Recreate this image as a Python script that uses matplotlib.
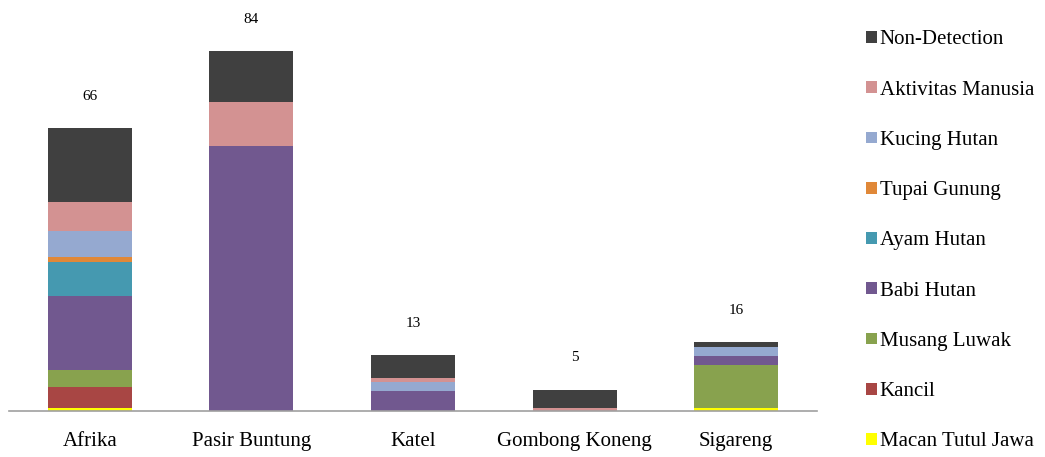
import numpy as np
import matplotlib
matplotlib.use('Agg')
from matplotlib import pyplot as plt
from matplotlib.patches import Patch

plt.rcParams['font.family'] = ['Liberation Serif', 'DejaVu Serif']

sites = ['Afrika', 'Pasir Buntung', 'Katel', 'Gombong Koneng', 'Sigareng']
totals = [66, 84, 13, 5, 16]

# stacked from the bottom up
macan_tutul_jawa = [0.6, 0, 0, 0, 0.6]
kancil = [5.0, 0, 0, 0, 0]
musang_luwak = [4.0, 0, 0, 0, 10.2]
babi_hutan = [17.2, 61.8, 4.7, 0, 2.0]
ayam_hutan = [8.1, 0, 0, 0, 0]
tupai_gunung = [1.0, 0, 0, 0, 0]
kucing_hutan = [6.1, 0, 2.0, 0, 2.2]
aktivitas_manusia = [6.8, 10.4, 1.0, 0.7, 0]
non_detection = [17.2, 11.8, 5.3, 4.3, 1.0]

series = [
    ('Macan Tutul Jawa', macan_tutul_jawa, '#ffff00'),
    ('Kancil', kancil, '#a84644'),
    ('Musang Luwak', musang_luwak, '#88a24e'),
    ('Babi Hutan', babi_hutan, '#71588f'),
    ('Ayam Hutan', ayam_hutan, '#4599b0'),
    ('Tupai Gunung', tupai_gunung, '#e08838'),
    ('Kucing Hutan', kucing_hutan, '#95a9d0'),
    ('Aktivitas Manusia', aktivitas_manusia, '#d39292'),
    ('Non-Detection', non_detection, '#404040'),
]

fig = plt.figure(figsize=(10.45, 4.57), dpi=100)
ax = fig.add_axes([9 / 1045, 1 - 411 / 457, 808 / 1045, 401 / 457])

x = np.arange(len(sites))
bottom = np.zeros(len(sites))
handles = []
for name, vals, col in series:
    vals = np.array(vals)
    ax.bar(x, vals, width=0.52, bottom=bottom, color=col, edgecolor='none')
    bottom += vals
    handles.append(Patch(facecolor=col, label=name))

for i, t in enumerate(totals):
    ax.annotate(str(t), (x[i], bottom[i]), xytext=(0, 23), textcoords='offset points',
                ha='center', va='center', fontsize=11)

ax.set_xlim(-0.5, len(sites) - 0.5)
ax.set_ylim(0, 401 / 4.283)
ax.set_xticks(x)
ax.set_xticklabels(sites, fontsize=15)
ax.tick_params(axis='x', length=0, pad=15)
ax.set_yticks([])
for s in ['top', 'right', 'left']:
    ax.spines[s].set_visible(False)
ax.spines['bottom'].set_color('#a0a0a0')
ax.spines['bottom'].set_linewidth(1.2)

fig.legend(handles=handles[::-1], loc='upper left', bbox_to_anchor=(858 / 1045, 1 - 22 / 457),
           frameon=False, fontsize=15, handlelength=0.5, handleheight=0.5,
           handletextpad=0.15, labelspacing=1.5, borderaxespad=0)

fig.savefig('out.png', dpi=100)
